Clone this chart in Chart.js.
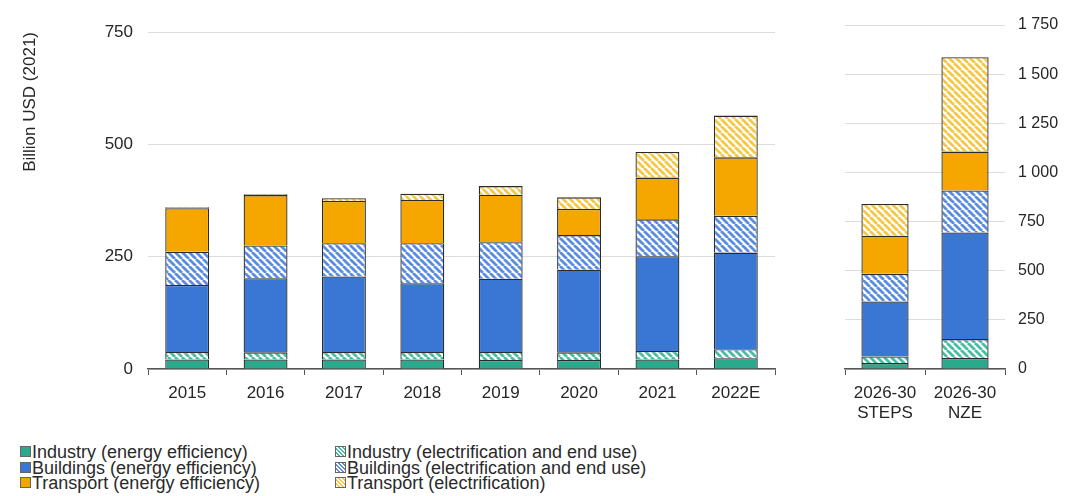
<!DOCTYPE html>
<html>
<head>
<meta charset="utf-8">
<script src="https://cdn.jsdelivr.net/npm/chart.js@4"></script>
<style>
  body { margin: 0; background: #fff; width: 1068px; height: 496px; overflow: hidden; position: relative; font-family: "Liberation Sans", Arial, sans-serif; }
  #c1 { position: absolute; left: 0; top: 0; }
  #c2 { position: absolute; left: 800px; top: 0; }
  .legend { position: absolute; top: 445px; font-size: 18px; color: #2a2a2a; line-height: 15.5px; }
  .legend div { white-space: nowrap; }
  .sw { display: inline-block; width: 9px; height: 9px; border: 1px solid #666; margin-right: 1px; vertical-align: 1px; }
</style>
</head>
<body>
<canvas id="c1" width="800" height="430"></canvas>
<canvas id="c2" width="268" height="430"></canvas>
<div class="legend" style="left:20px" id="legA"></div>
<div class="legend" style="left:335px" id="legB"></div>
<script>
// historique
var anos = ['2015', '2016', '2017', '2018', '2019', '2020', '2021', '2022E'];
var industriaEE = [21, 21, 21, 21, 20, 20, 21, 24];
var industriaEl = [17, 16, 17, 17, 18, 17, 19, 20];
var edificiosEE = [149, 165, 168, 153, 163, 184, 211, 215];
var edificiosEl = [74, 73, 74, 89, 81, 77, 82, 82];
var transporteEE = [97, 112, 94, 96, 106, 58, 93, 130];
var transporteEl = [2, 2, 6, 14, 19, 26, 57, 93];

// cenarios 2026-30
var cenarios = [['2026-30', 'STEPS'], ['2026-30', 'NZE']];
var cenIndustriaEE = [30, 56];
var cenIndustriaEl = [34, 96];
var cenEdificiosEE = [280, 543];
var cenEdificiosEl = [140, 213];
var cenTransporteEE = [194, 198];
var cenTransporteEl = [162, 480];

var nomes = ['Industry (energy efficiency)', 'Industry (electrification and end use)',
    'Buildings (energy efficiency)', 'Buildings (electrification and end use)',
    'Transport (energy efficiency)', 'Transport (electrification)'];

var corTeal = '#2aa98d';
var corAzul = '#3a77d5';
var corLaranja = '#f5a700';
var hachTeal = '#45bfa3';
var hachAzul = '#5a8de0';
var hachAmarelo = '#f4c744';

function Hachura(cor) {
    var c = document.createElement('canvas');
    c.width = 7; c.height = 7;
    var x = c.getContext('2d');
    x.fillStyle = '#fff';
    x.fillRect(0, 0, 7, 7);
    x.strokeStyle = cor;
    x.lineWidth = 2.8;
    x.beginPath();
    for (var k = -7; k <= 14; k += 7) {
        x.moveTo(k, 0);
        x.lineTo(k + 7, 7);
    }
    x.stroke();
    return x.createPattern(c, 'repeat');
}

var preenchimentos = [corTeal, Hachura(hachTeal), corAzul, Hachura(hachAzul), corLaranja, Hachura(hachAmarelo)];

function MontarDatasets(series, pct) {
    var ds = [];
    for (var i = 0; i < series.length; i++) {
        ds.push({
            label: nomes[i],
            data: series[i],
            backgroundColor: preenchimentos[i],
            borderColor: '#2b2b2b',
            borderWidth: 1.3,
            barPercentage: pct,
            categoryPercentage: 1
        });
    }
    return ds;
}

Chart.defaults.font.family = '"Liberation Sans", Arial, sans-serif';
Chart.defaults.color = '#262626';
Chart.defaults.animation = false;

var eixoX = {
    stacked: true,
    afterFit: function (s) { s.height = 61; },
    grid: { offset: true, drawOnChartArea: false, drawTicks: true, tickLength: 6, color: '#555' },
    border: { display: true, color: '#555', width: 1.5 },
    ticks: { font: { size: 17 }, padding: 8, maxRotation: 0, color: '#262626' }
};

new Chart(document.getElementById('c1'), {
    type: 'bar',
    data: {
        labels: anos,
        datasets: MontarDatasets([industriaEE, industriaEl, edificiosEE, edificiosEl, transporteEE, transporteEl], 0.56)
    },
    options: {
        responsive: false,
        layout: { padding: { top: 32, right: 25, left: 20, bottom: 0 } },
        plugins: { legend: { display: false }, tooltip: { enabled: false } },
        scales: {
            x: eixoX,
            y: {
                stacked: true,
                min: 0, max: 750,
                afterFit: function (s) { s.width = 128; },
                ticks: { stepSize: 250, font: { size: 17 }, padding: 15, color: '#262626' },
                grid: { color: '#dcdcdc', drawTicks: false },
                border: { display: false },
                title: { display: true, text: 'Billion USD (2021)', align: 'end', font: { size: 17 }, padding: 0, color: '#262626' }
            }
        }
    }
});

new Chart(document.getElementById('c2'), {
    type: 'bar',
    data: {
        labels: cenarios,
        datasets: MontarDatasets([cenIndustriaEE, cenIndustriaEl, cenEdificiosEE, cenEdificiosEl, cenTransporteEE, cenTransporteEl], 0.59)
    },
    options: {
        responsive: false,
        layout: { padding: { top: 25, left: 45, right: 0, bottom: 0 } },
        plugins: { legend: { display: false }, tooltip: { enabled: false } },
        scales: {
            x: eixoX,
            y: {
                stacked: true,
                position: 'right',
                min: 0, max: 1750,
                afterFit: function (s) { s.width = 63; },
                ticks: {
                    stepSize: 250, font: { size: 16 }, padding: 13, color: '#262626',
                    callback: function (v) { return String(v).replace(/\B(?=(\d{3})+(?!\d))/g, ' '); }
                },
                grid: { color: '#dcdcdc', drawTicks: false },
                border: { display: false }
            }
        }
    }
});

function PegarSwatch(i) {
    if (i % 2 === 0) return preenchimentos[i];
    var cor = [hachTeal, hachAzul, hachAmarelo][(i - 1) / 2];
    return 'repeating-linear-gradient(45deg, #fff 0 1.5px, ' + cor + ' 1.5px 3px)';
}

var legA = '', legB = '';
for (var i = 0; i < nomes.length; i++) {
    var item = '<div><span class="sw" style="background:' + PegarSwatch(i) + '"></span>' + nomes[i] + '</div>';
    if (i % 2 === 0) legA += item; else legB += item;
}
document.getElementById('legA').innerHTML = legA;
document.getElementById('legB').innerHTML = legB;
</script>
</body>
</html>
